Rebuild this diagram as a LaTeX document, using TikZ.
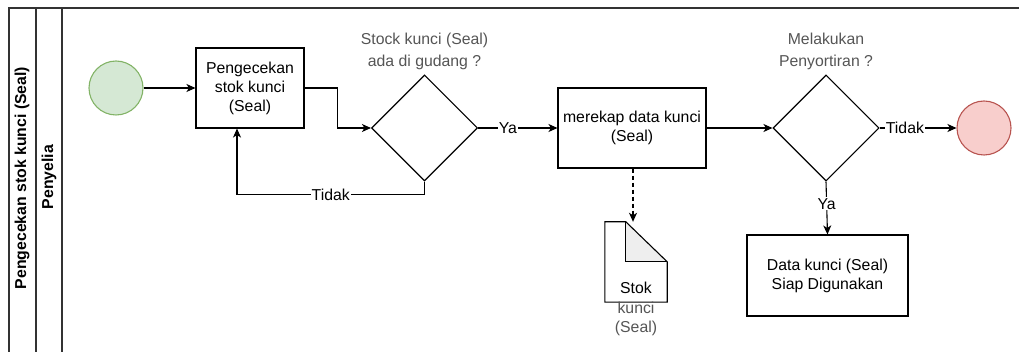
\documentclass[tikz,border=0pt]{standalone}
\usepackage{fontspec}
\setmainfont{Liberation Sans}
\usetikzlibrary{arrows.meta,shapes.geometric}

\definecolor{startfill}{HTML}{D5E8D4}
\definecolor{startline}{HTML}{82B366}
\definecolor{endfill}{HTML}{F8CECC}
\definecolor{endline}{HTML}{B85450}
\definecolor{lanecol}{HTML}{333333}
\definecolor{notecol}{HTML}{555555}
\definecolor{foldcol}{HTML}{EEEEEE}

\tikzset{
  base/.style={font=\fontsize{15.8}{19}\selectfont, align=center, inner sep=0pt},
  task/.style={base, draw=black, line width=1.1pt, fill=white},
  decision/.style={base, draw=black, line width=1.1pt, diamond, shape aspect=1, minimum size=106},
  event/.style={circle, line width=1.1pt, minimum size=54, inner sep=0pt},
  flow/.style={draw=black, line width=1.1pt, -{Stealth[length=9pt,width=8pt,inset=2.5pt]}},
  dataflow/.style={flow, dashed, dash pattern=on 4pt off 3pt},
  lbl/.style={base, fill=white, inner sep=1pt},
  note/.style={base, text=notecol, font=\fontsize{15.8}{22}\selectfont},
  lane/.style={draw=lanecol, line width=1.5pt},
  lanetitle/.style={base, font=\fontsize{15.8}{19}\selectfont\bfseries, rotate=90}
}

\begin{document}
\begin{tikzpicture}[x=1pt, y=-1pt]
\useasboundingbox (0,0) rectangle (1019,352);

% pool and lane borders
\draw[lane] (1019,8) -- (9,8) -- (9,352);
\draw[lane] (36,8) -- (36,352);
\draw[lane] (62,8) -- (62,352);
\node[lanetitle] (pool) at (22,178) {Pengecekan stok kunci (Seal)};
\node[lanetitle] (role) at (49,177) {Penyelia};

% events
\node[event, fill=startfill, draw=startline] (start) at (116,88) {};
\node[event, fill=endfill, draw=endline] (stop) at (984,128) {};

% tasks
\node[task, minimum width=108, minimum height=80] (check) at (250,88) {Pengecekan\\stok kunci\\(Seal)};
\node[task, minimum width=148, minimum height=80] (recap) at (632,128) {merekap data kunci\\(Seal)};
\node[task, minimum width=161, minimum height=81] (ready) at (827.5,275.5) {Data kunci (Seal)\\Siap Digunakan};

% gateways
\node[decision] (dec1) at (424.5,128) {};
\node[decision] (dec2) at (826,128) {};
\node[note, anchor=south] (q1) at (424.5,70) {Stock kunci (Seal)\\ada di gudang ?};
\node[note, anchor=south] (q2) at (826,70) {Melakukan\\Penyortiran ?};

% data object
\node[minimum width=62, minimum height=80, inner sep=0pt] (doc) at (636,262) {};
\coordinate (fold) at ([xshift=21]doc.north west);
\coordinate (foldin) at ([xshift=21,yshift=-40]doc.north west);
\fill[foldcol] (fold) -- (foldin) -- (doc.east |- foldin) -- cycle;
\draw[black, line width=1.1pt, line join=miter]
  (doc.north west) -- (fold) -- (doc.east |- foldin) -- (doc.south east) -- (doc.south west) -- cycle;
\draw[black, line width=1.1pt] (fold) -- (foldin) -- (doc.east |- foldin);
\node[base, anchor=base] (doctxt) at (636,294) {Stok};
\node[base, text=notecol, anchor=base] (doctxt2) at (636,313) {kunci};
\node[base, text=notecol, anchor=base] (doctxt3) at (636,332) {(Seal)};

% sequence flows
\draw[flow] (start) -- (check);
\draw[flow] (check.east) -- ++(33,0) |- (dec1.west);
\draw[flow] (dec1.south) -- ++(0,13) -| node[lbl, pos=0.25] {Tidak} ([xshift=-13]check.south);
\draw[flow] (dec1.east) -- node[lbl, pos=0.375] {Ya} (recap.west);
\draw[dataflow] ([xshift=1]recap.south) -- ([xshift=1]recap.south |- doc.north);
\draw[flow] (recap.east) -- (dec2.west);
\draw[flow] (dec2.east) -- node[lbl, pos=0.33] {Tidak} (stop.west);
\draw[flow] (dec2.south) -- node[lbl, pos=0.42] {Ya} (ready.north);
\end{tikzpicture}
\end{document}
